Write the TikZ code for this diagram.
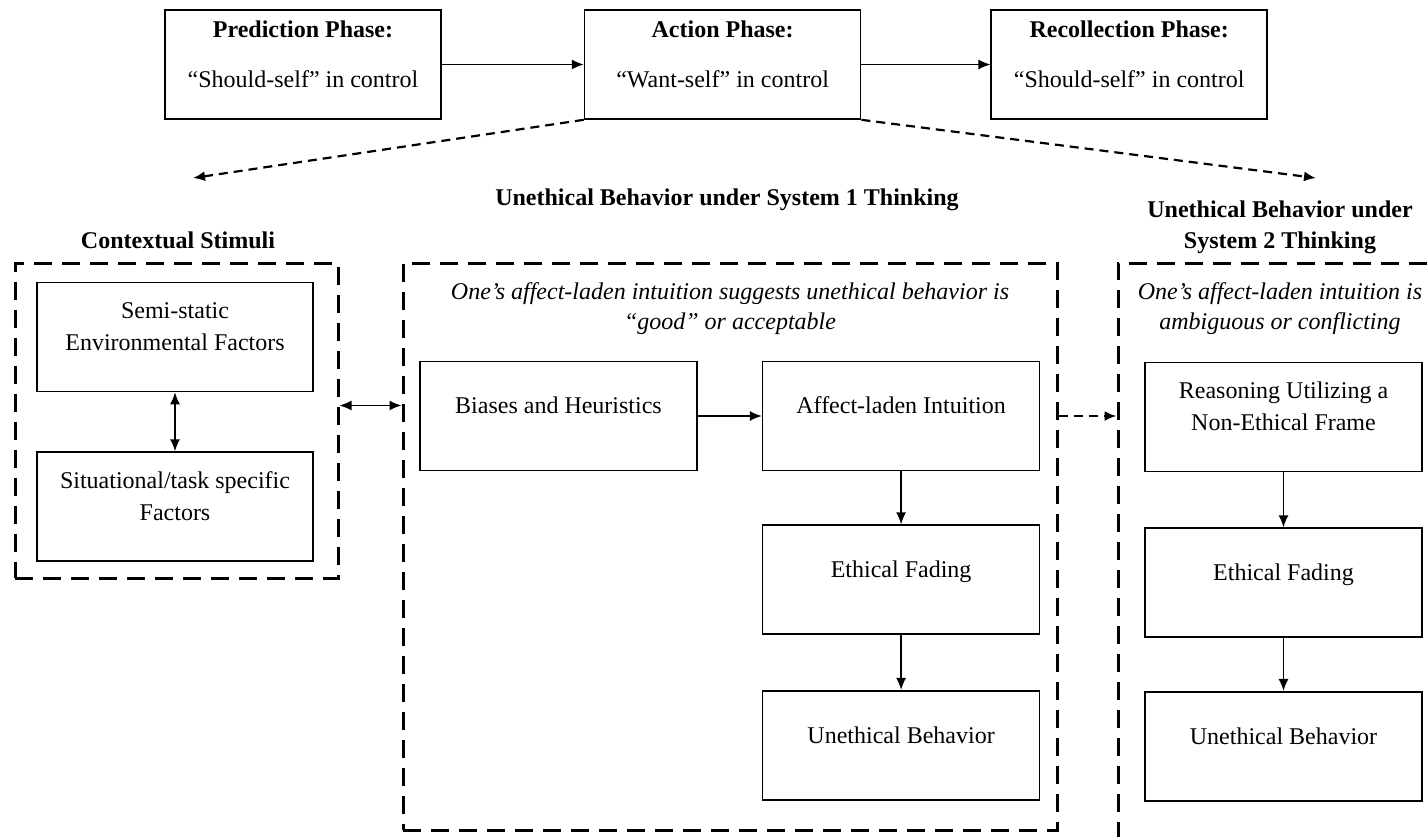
\documentclass[tikz,border=0pt]{standalone}
\usepackage{fontspec}
\setmainfont{Liberation Serif}
\usetikzlibrary{positioning, arrows.meta}
\tikzset{
	phase/.style={
		rectangle, draw=black, line width=1.6pt,
		minimum width=276pt, minimum height=109pt,
		align=center, text depth=20pt
	},
	factor/.style={
		rectangle, draw=black, line width=1.6pt,
		minimum width=277pt, minimum height=109pt,
		align=center, text depth=21pt
	},
	dashframe/.style={rectangle, draw=black, line width=3pt, dash pattern=on 18pt off 10pt},
	heading/.style={font=\fontsize{24}{31}\selectfont\bfseries, align=center},
	note/.style={font=\fontsize{24}{30}\selectfont\itshape, align=center},
	link/.style={-{Latex[length=12pt,width=10pt]}, line width=1.4pt},
	dlink/.style={link, line width=2.2pt, dash pattern=on 9pt off 6pt}
}
\begin{document}
\begin{tikzpicture}[x=1pt, y=-1pt, font=\fontsize{24}{32}\selectfont]
	\useasboundingbox (0,0) rectangle (1427,836);
	\clip (0,0) rectangle (1427,836);

	\node [phase] (pred) at (303,64.5) {\textbf{Prediction Phase:}\\[18pt]“Should-self” in control};
	\node [phase, right=142pt of pred] (act) {\textbf{Action Phase:}\\[18pt]“Want-self” in control};
	\node [phase, right=129pt of act] (recol) {\textbf{Recollection Phase:}\\[18pt]“Should-self” in control};

	\coordinate (ctxtip) at (193,178);
	\coordinate (systip) at (1316,178);

	\node [heading] (sys1title) at (727,200) {Unethical Behavior under System 1 Thinking};
	\node [heading] (ctxtitle) at (178,240) {Contextual Stimuli};
	\node [heading] (sys2title) at (1280,227) {Unethical Behavior under\\System 2 Thinking};

	\node [dashframe, minimum width=323pt, minimum height=315pt] (ctxframe) at (176.5,420.5) {};
	\node [dashframe, minimum width=654pt, minimum height=567pt] (sys1frame) at (730,546.5) {};
	\node [dashframe, minimum width=327pt, minimum height=607pt] (sys2frame) at (1281.5,566.5) {};

	\node [factor, minimum width=276pt] (semi) at (175,337) {Semi-static\\Environmental Factors};
	\node [factor, minimum width=276pt, below=59pt of semi] (situ) {Situational/task specific\\Factors};

	\node [note] (sys1note) at (730,309) {One’s affect-laden intuition suggests unethical behavior is\\“good” or acceptable};
	\node [factor] (bias) at (558.5,416) {Biases and Heuristics};
	\node [factor, right=64pt of bias] (affect) {Affect-laden Intuition};
	\node [factor, below=53pt of affect] (fade1) {Ethical Fading};
	\node [factor, below=55pt of fade1] (uneth1) {Unethical Behavior};

	\node [note] (sys2note) at (1280,309) {One’s affect-laden intuition is\\ambiguous or conflicting};
	\node [factor] (reason) at (1283.5,417) {Reasoning Utilizing a\\Non-Ethical Frame};
	\node [factor, below=55pt of reason] (fade2) {Ethical Fading};
	\node [factor, below=53pt of fade2] (uneth2) {Unethical Behavior};

	\draw [link] (pred) -- (act);
	\draw [link] (act) -- (recol);
	\draw [dlink] (act.south west) -- (ctxtip);
	\draw [dlink] (act.south east) -- (systip);

	\draw [link, {Latex[length=12pt,width=10pt]}-{Latex[length=12pt,width=10pt]}] (semi) -- (situ);
	\draw [link, {Latex[length=12pt,width=10pt]}-{Latex[length=12pt,width=10pt]}] ([yshift=15pt]ctxframe.east) -- ([yshift=15pt]ctxframe.east -| sys1frame.west);

	\draw [link] (bias) -- (affect);
	\draw [link] (affect) -- (fade1);
	\draw [link] (fade1) -- (uneth1);
	\draw [dlink] (sys1frame.east |- affect.east) -- (sys2frame.west |- affect.east);

	\draw [link] (reason) -- (fade2);
	\draw [link] (fade2) -- (uneth2);
\end{tikzpicture}
\end{document}
